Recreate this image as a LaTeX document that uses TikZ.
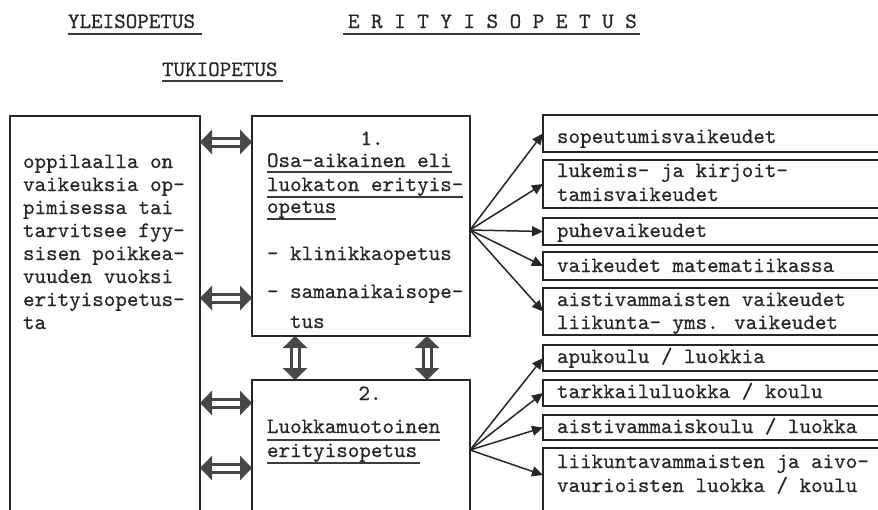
\documentclass[tikz,border=0pt]{standalone}
\usepackage{fontspec}
\newfontfamily\twfont{lmmono10-regular.otf}[FakeBold=0.5]
\usetikzlibrary{arrows.meta,calc}
\definecolor{ink}{HTML}{262626}
\tikzset{
  txt/.style={anchor=base west, inner sep=0pt, outer sep=0pt, font=\twfont\fontsize{22pt}{23.3pt}\selectfont, text=ink},
  ctxt/.style={txt, anchor=base},
  box/.style={draw=ink, line width=1.8pt, anchor=north west, inner sep=0pt, outer sep=0pt},
  fan/.style={draw=ink, line width=1.5pt, -{Triangle[length=11pt,width=10pt]}},
  uline/.style={draw=ink!90, line width=2pt},
  dblo/.style={draw=ink!85, line width=11pt, {Triangle[length=12pt,width=24pt]}-{Triangle[length=12pt,width=24pt]}},
  dbli/.style={draw=white, line width=5pt, shorten <=12pt, shorten >=12pt},
}
\begin{document}
\begin{tikzpicture}[x=1pt,y=-1pt]
\useasboundingbox (0,0) rectangle (878,509);
\clip (0,0) rectangle (878,509);
\fill[white] (0,0) rectangle (878,509);

% titles
\node[txt] (yl) at (68,28) {YLEISOPETUS};
\draw[uline] ([yshift=-6pt]yl.base west) -- ([yshift=-6pt,xshift=7pt]yl.base east);
\node[txt] (er) at (348,28) {E R I T Y I S O P E T U S};
\draw[uline] ([yshift=-6pt,xshift=-5pt]er.base west) -- ([yshift=-6pt,xshift=3pt]er.base east);
\node[txt] (tu) at (162,76) {TUKIOPETUS};
\draw[uline] ([yshift=-5pt]tu.base west) -- ([yshift=-5pt,xshift=5pt]tu.base east);

% main boxes
\node[box, minimum width=190pt, minimum height=420pt] (L) at (10,116) {};
\node[box, minimum width=218pt, minimum height=220pt] (B1) at (252,116) {};
\node[box, minimum width=218pt, minimum height=150pt] (B2) at (252,380) {};

% right boxes
\node[box, minimum width=345pt, minimum height=37pt] (R1) at (543,115) {};
\node[box, minimum width=345pt, minimum height=48pt] (R2) at (543,160) {};
\node[box, minimum width=345pt, minimum height=27pt] (R3) at (543,218) {};
\node[box, minimum width=345pt, minimum height=28pt] (R4) at (543,252) {};
\node[box, minimum width=345pt, minimum height=47pt] (R5) at (543,288) {};
\node[box, minimum width=345pt, minimum height=26pt] (R6) at (543,345) {};
\node[box, minimum width=345pt, minimum height=26pt] (R7) at (543,380) {};
\node[box, minimum width=345pt, minimum height=25pt] (R8) at (543,415) {};
\node[box, minimum width=345pt, minimum height=80pt] (R9) at (543,448) {};

% left box text
\node[txt] (l1) at (23,168) {oppilaalla on};
\node[txt] (l2) at (23,191) {vaikeuksia op-};
\node[txt] (l3) at (23,214) {pimisessa tai};
\node[txt] (l4) at (23,237) {tarvitsee fyy-};
\node[txt] (l5) at (23,260) {sisen poikkea-};
\node[txt] (l6) at (23,283) {vuuden vuoksi};
\node[txt] (l7) at (23,306) {erityisopetus-};
\node[txt] (l8) at (23,329) {ta};

% box 1 text
\node[ctxt] (n1) at (372,145) {1.};
\node[txt] (a1) at (267,167) {Osa-aikainen eli};
\node[txt] (a2) at (267,191) {luokaton erityis-};
\node[txt] (a3) at (267,213) {opetus};
\draw[uline] ([yshift=-5pt]a1.base west) -- ([yshift=-5pt]a1.base east);
\draw[uline] ([yshift=-6pt]a2.base west) -- ([yshift=-6pt]a2.base east);
\draw[uline] ([yshift=-6pt]a3.base west) -- ([yshift=-6pt]a3.base east);
\node[txt] (a4) at (267,260) {- klinikkaopetus};
\node[txt] (a5) at (267,298) {- samanaikaisope-};
\node[txt] (a6) at (290,328) {tus};

% box 2 text
\node[ctxt] (n2) at (370,400) {2.};
\node[txt] (b1) at (267,433) {Luokkamuotoinen};
\node[txt] (b2) at (267,457) {erityisopetus};
\draw[uline] ([yshift=-7pt]b1.base west) -- ([yshift=-7pt]b1.base east);
\draw[uline] ([yshift=-6pt]b2.base west) -- ([yshift=-6pt,xshift=3pt]b2.base east);

% right box text
\node[txt] (r1) at (557,143) {sopeutumisvaikeudet};
\node[txt] (r2a) at (557,177) {lukemis- ja kirjoit-};
\node[txt] (r2b) at (557,201) {tamisvaikeudet};
\node[txt] (r3) at (557,237) {puhevaikeudet};
\node[txt] (r4) at (557,272) {vaikeudet matematiikassa};
\node[txt] (r5a) at (557,306) {aistivammaisten vaikeudet};
\node[txt] (r5b) at (557,329) {liikunta- yms. vaikeudet};
\node[txt] (r6) at (557,363) {apukoulu / luokkia};
\node[txt] (r7) at (557,398) {tarkkailuluokka / koulu};
\node[txt] (r8) at (557,433) {aistivammaiskoulu / luokka};
\node[txt] (r9a) at (557,468) {liikuntavammaisten ja aivo-};
\node[txt] (r9b) at (557,492) {vaurioisten luokka / koulu};

% fans
\coordinate (f1) at ([yshift=-4pt]B1.east);
\coordinate (f2) at ([yshift=-70pt]B2.north east);
\foreach \r in {R1,R2,R3,R4,R5} \draw[fan] (f1) -- (\r.west);
\foreach \r in {R6,R7,R8} \draw[fan] (f2) -- (\r.west);
\draw[fan] (f2) -- ([yshift=-27pt]R9.north west);

% double arrows
\foreach \s/\t in {26/B1,182/B1,23/B2,88/B2} {
  \draw[dblo] ([yshift=-\s pt]L.north east |- \t.north west) -- ([yshift=-\s pt]\t.north west);
  \draw[dbli] ([yshift=-\s pt]L.north east |- \t.north west) -- ([yshift=-\s pt]\t.north west);
}
\foreach \s in {43,175} {
  \draw[dblo] ([xshift=\s pt]B1.south west) -- ([xshift=\s pt]B2.north west);
  \draw[dbli] ([xshift=\s pt]B1.south west) -- ([xshift=\s pt]B2.north west);
}
\end{tikzpicture}
\end{document}
